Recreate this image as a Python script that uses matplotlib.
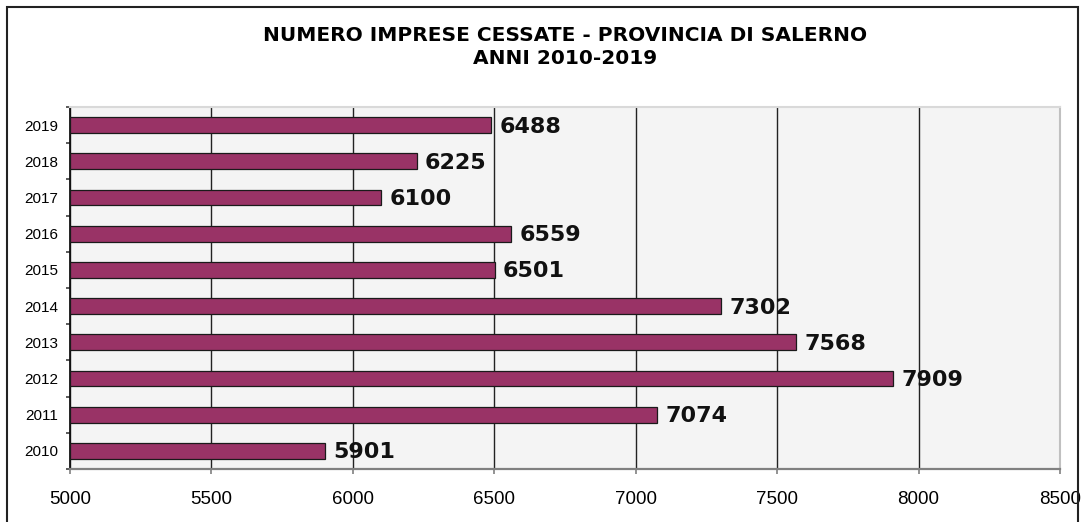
import matplotlib
matplotlib.use("Agg")
import matplotlib.pyplot as plt
from matplotlib.patches import Rectangle
import numpy as np

years = ["2010", "2011", "2012", "2013", "2014", "2015", "2016", "2017", "2018", "2019"]
values = [5901, 7074, 7909, 7568, 7302, 6501, 6559, 6100, 6225, 6488]
x_ticks = [5000, 5500, 6000, 6500, 7000, 7500, 8000, 8500]
title = "NUMERO IMPRESE CESSATE - PROVINCIA DI SALERNO\nANNI 2010-2019"

fig = plt.figure(figsize=(10.86, 5.22), dpi=100)
ax = fig.add_axes([70/1086, 53/522, 990/1086, 362/522])
ax.set_facecolor("#F4F4F4")

pos = np.arange(len(years))
ax.barh(pos, [v - 5000 for v in values], left=5000, height=0.44,
        color="#993366", edgecolor="#1a1a1a", linewidth=0.9, zorder=3)

ax.set_xlim(5000, 8500)
ax.set_ylim(-0.5, len(years) - 0.5)

for p, v in zip(pos, values):
    ax.text(v + 30, p - 0.04, str(v), fontsize=16, fontweight="bold",
            family="DejaVu Sans", va="center", ha="left", color="#111111", zorder=4)

ax.set_xticks(x_ticks)
ax.set_xticklabels([str(t) for t in x_ticks], fontsize=13.5, family="Liberation Sans")
ax.tick_params(axis="x", length=3.6, width=1.2, color="#808080", pad=12)
ax.xaxis.grid(True, color="#222222", linewidth=1.0, zorder=1)

ax.set_yticks(np.arange(-0.5, len(years), 1.0))
ax.set_yticklabels([])
ax.set_yticks(pos, minor=True)
ax.set_yticklabels(years, minor=True, fontsize=11, family="Liberation Sans")
ax.tick_params(axis="y", which="major", length=3, width=1.2, color="#404040")
ax.tick_params(axis="y", which="minor", length=0, pad=8.5)

ax.spines["left"].set_color("#111111")
ax.spines["left"].set_linewidth(1.3)
ax.spines["bottom"].set_color("#808080")
ax.spines["bottom"].set_linewidth(1.6)
ax.spines["right"].set_color("#C0C0C0")
ax.spines["right"].set_linewidth(1.5)
ax.spines["top"].set_color("#D9D9D9")
ax.spines["top"].set_linewidth(1.5)

fig.text(565/1086, 1 - 47/522, title, ha="center", va="center",
         fontsize=14.5, fontweight="bold", family="DejaVu Sans",
         linespacing=1.3)

border = Rectangle((7/1086, -0.05), 1071/1086, 1.05 - 7/522,
                   transform=fig.transFigure, fill=False,
                   edgecolor="#222222", linewidth=1.5, clip_on=False)
fig.patches.append(border)

fig.savefig("out.png", dpi=100)
